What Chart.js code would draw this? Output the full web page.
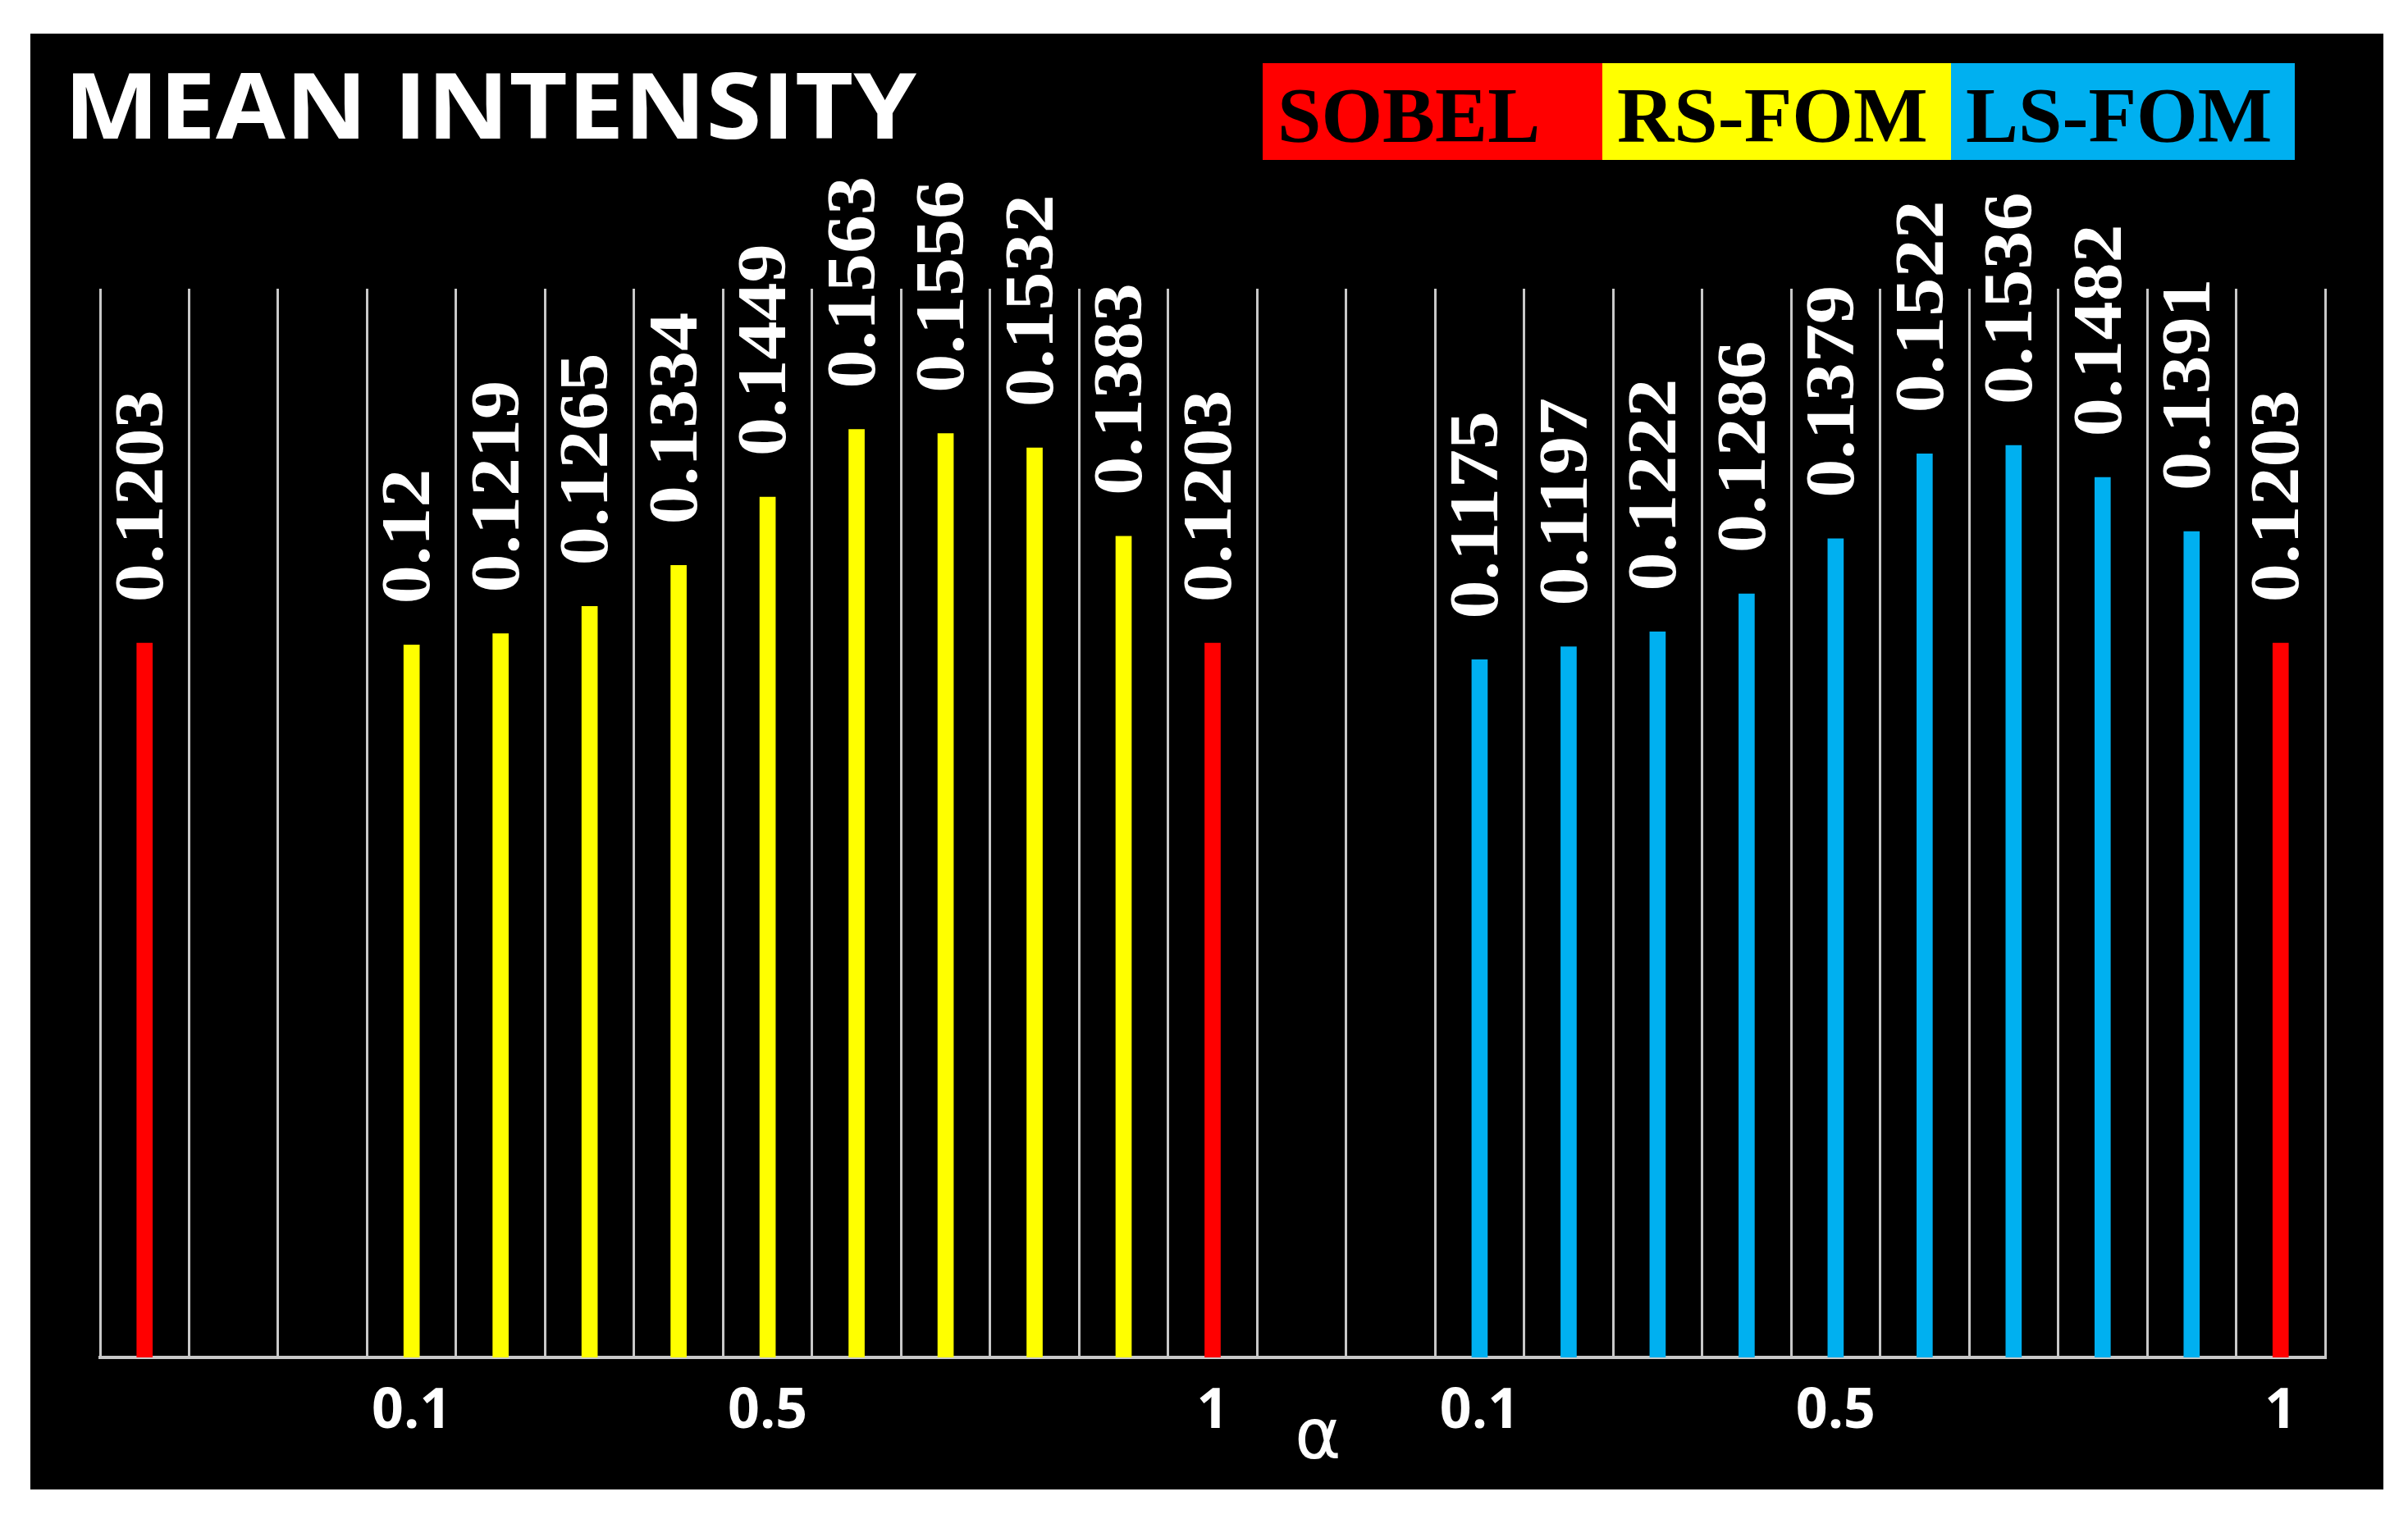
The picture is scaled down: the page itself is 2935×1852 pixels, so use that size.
<!DOCTYPE html>
<html><head><meta charset="utf-8">
<script src="https://cdn.jsdelivr.net/npm/chart.js@4.4.1/dist/chart.umd.min.js"></script>
<style>
html,body{margin:0;padding:0;background:#fff;width:2935px;height:1852px;overflow:hidden}
#bg{position:absolute;left:37px;top:41px;width:2868px;height:1775px;background:#000}
#wrap{position:absolute;left:0;top:0;width:2935px;height:1852px}
.t{position:absolute;white-space:nowrap;transform-origin:0 0}
#title{left:78px;top:70px;color:#fff;font:bold 112px "Open Sans";line-height:1}
.lg{position:absolute;top:77px;height:118px;font:bold 96px "Liberation Serif";color:#000;line-height:128px;padding-left:18px;box-sizing:border-box;overflow:hidden}
#alpha{left:1578px;top:1705px;color:#fff;font:86px "DejaVu Sans";line-height:1}
</style></head><body>
<div id="bg"></div>
<div id="wrap"><canvas id="c" width="2935" height="1852"></canvas></div>
<div class="t" id="title">MEAN INTENSITY</div>
<div class="lg" style="left:1539px;width:414px;background:#ff0000">SOBEL</div>
<div class="lg" style="left:1953px;width:425px;background:#ffff00">RS-FOM</div>
<div class="lg" style="left:2378px;width:419px;background:#00b0f0">LS-FOM</div>
<div class="t" id="alpha">α</div>
<script>
const categories = ['S0','g1','g2','r0.1','r0.2','r0.3','r0.4','r0.5','r0.6','r0.7','r0.8','r0.9','S1','g3','g4','l0.1','l0.2','l0.3','l0.4','l0.5','l0.6','l0.7','l0.8','l0.9','S2'];
const sobel = [0.1203,null,null,null,null,null,null,null,null,null,null,null,0.1203,null,null,null,null,null,null,null,null,null,null,null,0.1203];
const rsfom = [null,null,null,0.12,0.1219,0.1265,0.1334,0.1449,0.1563,0.1556,0.1532,0.1383,null,null,null,null,null,null,null,null,null,null,null,null,null];
const lsfom = [null,null,null,null,null,null,null,null,null,null,null,null,null,null,null,0.1175,0.1197,0.1222,0.1286,0.1379,0.1522,0.1536,0.1482,0.1391,null];
const tickLabels = ['','','','0.1','','','','0.5','','','','','1','','','0.1','','','','0.5','','','','','1'];

const title=document.getElementById('title');
title.style.transform='scaleX('+(1039/title.scrollWidth)+')';

const labelPlugin={id:'lbl',afterDatasetsDraw(chart){
  const ctx=chart.ctx;
  chart.data.datasets.forEach((ds,i)=>{
    chart.getDatasetMeta(i).data.forEach((el,j)=>{
      const v=ds.data[j]; if(v==null) return;
      ctx.save();
      ctx.translate(el.x,el.y-50);
      ctx.rotate(-Math.PI/2);
      ctx.scale(1.12,1);
      ctx.fillStyle='#fff';
      ctx.font='bold 84px "Liberation Serif"';
      ctx.textAlign='left';ctx.textBaseline='middle';
      ctx.fillText(String(v),0,0);
      ctx.restore();
    });
  });
  const xs=chart.scales.x;
  ctx.save();
  ctx.fillStyle='#fff';ctx.font='bold 68px "Open Sans"';ctx.textAlign='center';ctx.textBaseline='middle';
  tickLabels.forEach((t,k)=>{ if(t) ctx.fillText(t,xs.getPixelForValue(k),1722);});
  ctx.restore();
}};

new Chart(document.getElementById('c'),{
  type:'bar',
  data:{labels:categories,datasets:[
    {label:'SOBEL',data:sobel,backgroundColor:'#ff0000'},
    {label:'RS-FOM',data:rsfom,backgroundColor:'#ffff00'},
    {label:'LS-FOM',data:lsfom,backgroundColor:'#00b0f0'}
  ]},
  options:{responsive:false,animation:false,
    layout:{padding:{left:122,right:101,top:352,bottom:197}},
    plugins:{legend:{display:false},tooltip:{enabled:false}},
    datasets:{bar:{grouped:false,barThickness:19}},
    scales:{
      x:{offset:true,grid:{color:'#c8c8c8',lineWidth:3,offset:true,drawTicks:false},border:{color:'#c8c8c8',width:4},ticks:{display:false}},
      y:{display:false,min:0,max:0.18}
    }
  },
  plugins:[labelPlugin]
});
</script>
</body></html>
